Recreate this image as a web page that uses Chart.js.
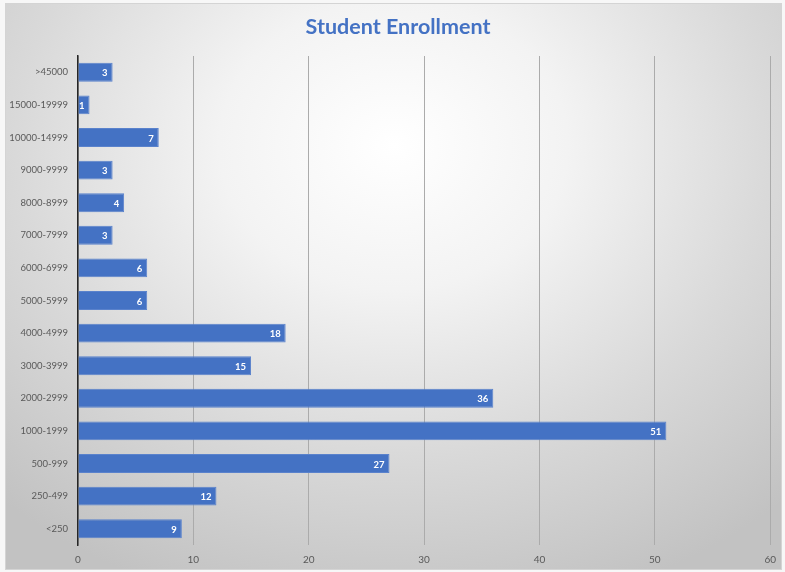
<!DOCTYPE html>
<html>
<head>
<meta charset="utf-8">
<script src="https://cdn.jsdelivr.net/npm/chart.js@4.4.1/dist/chart.umd.min.js"></script>
<style>
  html, body { margin: 0; padding: 0; background: #f7f7f7; }
  #frame {
    position: absolute; left: 5px; top: 3px; width: 775px; height: 565px;
    border: 1px solid #d4d4d4;
    background: radial-gradient(ellipse 75% 85% at 50% 25%, #ffffff 0%, #f3f3f3 30%, #d9d9d9 65%, #c2c2c2 100%);
  }
  #wrap { position: absolute; left: 0; top: 0; width: 785px; height: 572px; }
</style>
</head>
<body>
<div id="frame"></div>
<div id="wrap"><canvas id="enrollment-chart" width="785" height="572"></canvas></div>
<script>
// ===== Data =====
const chartTitle = 'Student Enrollment';
const enrollmentRanges = [
  '>45000', '15000-19999', '10000-14999', '9000-9999', '8000-8999',
  '7000-7999', '6000-6999', '5000-5999', '4000-4999', '3000-3999',
  '2000-2999', '1000-1999', '500-999', '250-499', '<250',
];
const schoolCounts = [3, 1, 7, 3, 4, 3, 6, 6, 18, 15, 36, 51, 27, 12, 9];
const axisTicks = [0, 10, 20, 30, 40, 50, 60];

const FONT = 'Lato, "Open Sans", sans-serif';

// title drawn over the frame centre rather than the canvas centre
const frameTitle = {
  id: 'frameTitle',
  afterDraw(chart) {
    const { ctx } = chart;
    ctx.save();
    ctx.font = `bold 21.5px ${FONT}`;
    ctx.fillStyle = '#4472c4';
    ctx.textAlign = 'center';
    ctx.textBaseline = 'middle';
    ctx.fillText(chartTitle, 398, 27);
    ctx.restore();
  },
};

// value labels drawn inside the end of each bar
const barValueLabels = {
  id: 'barValueLabels',
  afterDatasetsDraw(chart) {
    const { ctx } = chart;
    const meta = chart.getDatasetMeta(0);
    ctx.save();
    ctx.font = `bold 9.5px ${FONT}`;
    ctx.fillStyle = '#ffffff';
    ctx.textAlign = 'right';
    ctx.textBaseline = 'middle';
    meta.data.forEach((bar, index) => {
      ctx.fillText(String(schoolCounts[index]), bar.x - 5, bar.y + 1);
    });
    ctx.restore();
  },
};

new Chart(document.getElementById('enrollment-chart'), {
  type: 'bar',
  data: {
    labels: enrollmentRanges,
    datasets: [{
      data: schoolCounts,
      backgroundColor: '#4472c4',
      borderColor: '#5a82cc',
      borderWidth: 1,
      categoryPercentage: 1,
      barPercentage: 0.58,
    }],
  },
  options: {
    indexAxis: 'y',
    responsive: false,
    animation: false,
    layout: { padding: { left: 0, right: 13, top: 56, bottom: 0 } },
    plugins: {
      legend: { display: false },
      tooltip: { enabled: false },
      title: { display: false },
    },
    scales: {
      x: {
        min: 0,
        max: 60,
        afterBuildTicks(scale) {
          scale.ticks = axisTicks.map((value) => ({ value }));
        },
        afterFit(scale) { scale.height = 27; },
        grid: { color: '#ababab', lineWidth: 1, drawTicks: false },
        border: { display: false },
        ticks: {
          color: '#595959',
          padding: 9,
          font: { family: FONT, size: 10 },
        },
      },
      y: {
        afterFit(scale) { scale.width = 78; },
        grid: { display: false, drawTicks: false },
        border: { display: true, color: '#262626', width: 1.5 },
        ticks: {
          color: '#595959',
          padding: 10,
          font: { family: FONT, size: 9.5 },
        },
      },
    },
  },
  plugins: [barValueLabels, frameTitle],
});
</script>
</body>
</html>
